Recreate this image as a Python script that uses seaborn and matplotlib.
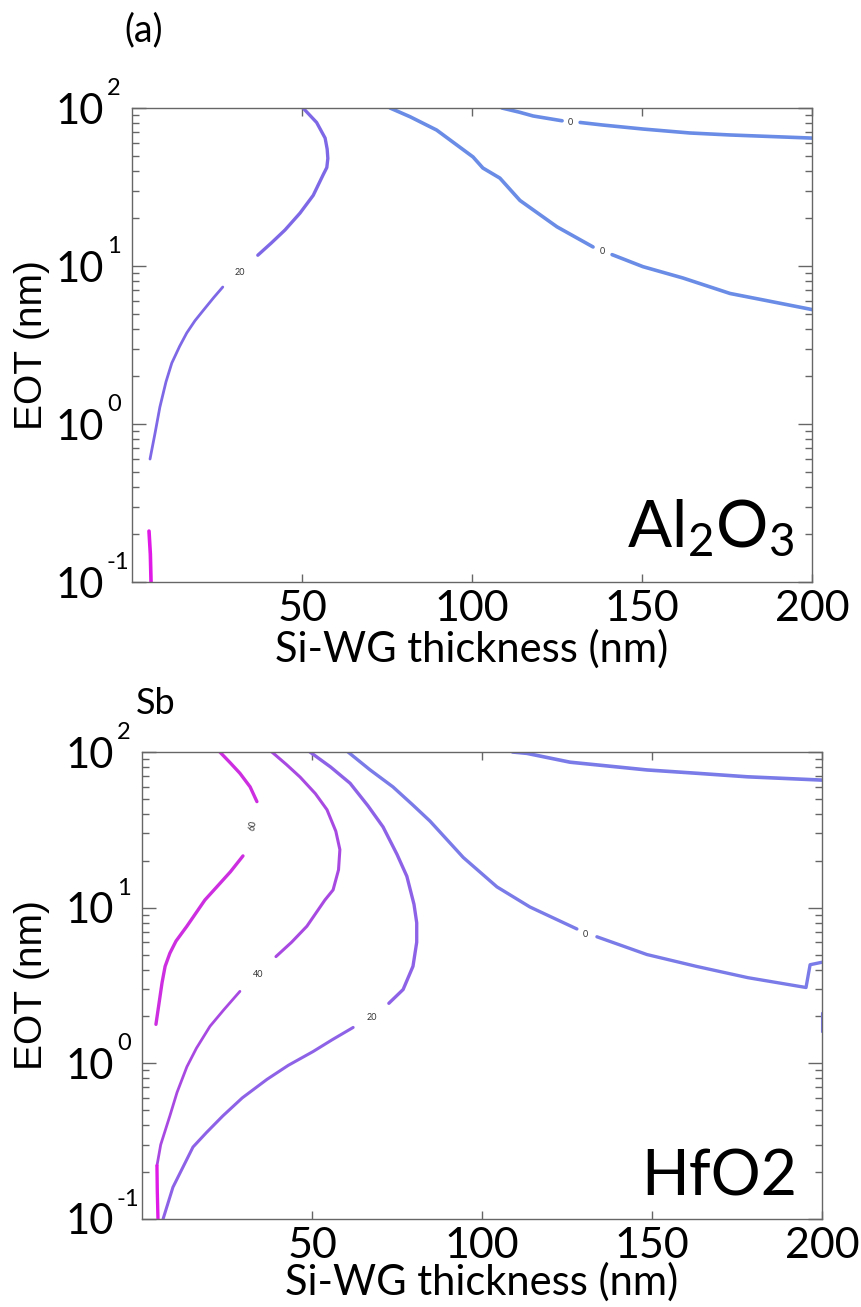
import matplotlib
matplotlib.use("Agg")
import matplotlib.pyplot as plt
import seaborn as sns

# ---- panel (a): Al2O3 ----
# 20 contour, lower piece (below label) and upper piece
al_20_lo_x = [5.3, 6.8, 8.2, 10.0, 11.7, 14.0, 16.1, 18.5, 21.0, 24.0, 26.7]
al_20_lo_y = [0.60, 0.88, 1.28, 1.85, 2.43, 3.10, 3.77, 4.50, 5.25, 6.30, 7.36]
al_20_hi_x = [37.0, 41.0, 45.0, 49.4, 53.3, 56.2, 57.3, 57.6, 57.4, 56.8, 54.3, 50.3]
al_20_hi_y = [11.7, 14.0, 16.9, 21.6, 28.0, 37.7, 42.0, 48.0, 55.0, 64.5, 81.0, 100.0]
# short magenta piece at bottom left
al_mag_x = [5.0, 5.4, 5.6]
al_mag_y = [0.21, 0.15, 0.10]
# lower 0 contour
al_0lo_a_x = [75.9, 81.8, 89.6, 100.3, 103.2, 108.2, 114.1, 125.0, 135.6]
al_0lo_a_y = [100, 88, 72.5, 49, 41.7, 36, 26, 17.7, 13.2]
al_0lo_b_x = [141.2, 150.3, 162.0, 175.9, 185.6, 200.0]
al_0lo_b_y = [11.8, 9.9, 8.4, 6.7, 6.1, 5.3]
# upper 0 contour
al_0hi_a_x = [108.8, 114.0, 118.0, 126.5]
al_0hi_a_y = [100, 94, 89, 83]
al_0hi_b_x = [131.8, 138.5, 150.3, 164.0, 175.9, 200.0]
al_0hi_b_y = [81, 78, 73.6, 69.5, 67.5, 64.5]
al_labels = ["20", "0", "0"]
al_label_x = [31.8, 129.0, 138.2]
al_label_y = [9.1, 81.0, 12.3]

# ---- panel (b): HfO2 ----
hf_60_a_x = [22.9, 26.0, 28.8, 31.8, 33.8]
hf_60_a_y = [100, 85, 73, 59.7, 48]
hf_60_b_x = [29.7, 26.0, 22.0, 18.5, 13.2, 10.0, 8.2, 6.8, 5.9, 4.1]
hf_60_b_y = [21.5, 17.0, 13.6, 11.2, 7.6, 6.1, 5.1, 4.2, 3.3, 1.78]
hf_40_a_x = [38.2, 42.5, 46.5, 51.0, 54.4, 57.0, 58.2, 57.8, 56.2, 53.8, 48.5, 44.0, 39.4]
hf_40_a_y = [100, 83, 69, 54, 42.6, 31, 23.6, 17.5, 13, 11.2, 7.6, 6.0, 4.85]
hf_40_b_x = [28.8, 24.0, 20.0, 16.0, 13.2, 10.3, 8.2, 5.5, 4.4]
hf_40_b_y = [2.9, 2.2, 1.73, 1.25, 0.95, 0.65, 0.46, 0.30, 0.22]
hf_mag_x = [4.4, 4.5, 4.7]
hf_mag_y = [0.22, 0.15, 0.10]
hf_20_a_x = [49.4, 55.5, 61.2, 66.5, 70.9, 75.0, 77.9, 80.0, 80.8, 80.8, 79.7, 76.8, 72.6]
hf_20_a_y = [100, 80, 63, 45, 33, 22, 15.9, 10.5, 8.0, 6.0, 4.2, 2.98, 2.43]
hf_20_b_x = [62.1, 56.0, 50.3, 43.0, 36.8, 29.5, 23.8, 19.0, 15.0, 11.8, 9.1, 6.2]
hf_20_b_y = [1.70, 1.42, 1.19, 0.97, 0.79, 0.60, 0.46, 0.36, 0.29, 0.21, 0.16, 0.10]
hf_0lo_a_x = [60.6, 67.0, 73.8, 79.5, 84.7, 94.5, 104.4, 114.1, 127.9]
hf_0lo_a_y = [100, 77, 59.7, 46, 36, 21, 13.6, 10.1, 7.3]
hf_0lo_b_x = [133.8, 148.5, 163.2, 178.2, 195.3, 196.5, 200.0]
hf_0lo_b_y = [6.5, 5.0, 4.19, 3.55, 3.07, 4.3, 4.46]
hf_0edge_x = [200.0, 200.0]
hf_0edge_y = [1.6, 2.1]
hf_0hi_x = [109.0, 113.2, 125.9, 148.5, 163.2, 178.0, 200.0]
hf_0hi_y = [100, 98, 86, 76.7, 73, 69.3, 66]
hf_labels = ["60", "40", "20", "0"]
hf_label_x = [32.7, 34.1, 67.6, 130.5]
hf_label_y = [33.6, 3.7, 1.97, 6.7]
hf_label_rot = [80, 0, 0, 0]

yticks = [0.1, 1, 10, 100]
yexp = ["-1", "0", "1", "2"]
xticks = [50, 100, 150, 200]

c0_top = "#6A8CE6"
c0_bot = "#7A7AE8"
c20_top = "#7E68E6"
c20_bot = "#8E62E6"
c40 = "#A84AE2"
c60 = "#CC2EE0"
cmag = "#E01AE6"

sns.set_theme(style="white")
plt.rcParams["font.family"] = ["Lato", "DejaVu Sans"]
plt.rcParams["mathtext.fontset"] = "custom"
plt.rcParams["mathtext.rm"] = "Lato"
plt.rcParams["mathtext.it"] = "Lato"
plt.rcParams["text.color"] = "black"
plt.rcParams["axes.labelcolor"] = "black"


def curve(ax, xs, ys, color, lw=2.2):
    sns.lineplot(x=xs, y=ys, sort=False, estimator=None, color=color,
                 lw=lw, ax=ax)


def style_axes(ax, ylab_x):
    ax.set_yscale("log")
    ax.set_xlim(0, 200)
    ax.set_ylim(0.1, 100)
    ax.set_xticks(xticks)
    ax.set_xticklabels([str(t) for t in xticks])
    ax.set_yticks(yticks)
    ax.set_yticklabels(["10"] * len(yticks))
    ax.tick_params(which="both", direction="in", top=True, right=True,
                   bottom=True, left=True, color="#666666", width=1,
                   labelcolor="black")
    ax.tick_params(axis="x", labelsize=31, pad=6, length=6)
    ax.tick_params(axis="y", which="major", labelsize=30, pad=20, length=10)
    ax.tick_params(axis="y", which="minor", length=5)
    for v, e in zip(yticks, yexp):
        ax.annotate(e, xy=(0, v), xycoords=("axes fraction", "data"),
                    xytext=(-18, 14), textcoords="offset points",
                    fontsize=17, ha="left", va="center")
    for s in ax.spines.values():
        s.set_color("#666666")
        s.set_linewidth(1)
    ax.set_xlabel("Si-WG thickness (nm)", fontsize=30)
    ax.xaxis.set_label_coords(0.5, -0.1)
    ax.set_ylabel("EOT (nm)", fontsize=28, family="Liberation Sans")
    ax.yaxis.set_label_coords(ylab_x, 0.5)


fig = plt.figure(figsize=(8.61, 13.07), dpi=100)

# panel (a)
ax1 = fig.add_axes([132 / 861, 1 - 582 / 1307, 680 / 861, 474 / 1307])
ax1.set_yscale("log")
curve(ax1, al_20_lo_x, al_20_lo_y, c20_top, 2.0)
curve(ax1, al_20_hi_x, al_20_hi_y, c20_top, 2.4)
curve(ax1, al_mag_x, al_mag_y, cmag, 2.6)
curve(ax1, al_0lo_a_x, al_0lo_a_y, c0_top, 2.6)
curve(ax1, al_0lo_b_x, al_0lo_b_y, c0_top, 2.6)
curve(ax1, al_0hi_a_x, al_0hi_a_y, c0_top, 2.6)
curve(ax1, al_0hi_b_x, al_0hi_b_y, c0_top, 2.6)
for t, x, y in zip(al_labels, al_label_x, al_label_y):
    ax1.text(x, y, t, fontsize=6.5, ha="center", va="center", color="#333333")
style_axes(ax1, -0.12)
ax1.text(0.974, 0.074, r"Al$_2$O$_3$", transform=ax1.transAxes,
         fontsize=47, ha="right", va="baseline")

# panel (b)
ax2 = fig.add_axes([142 / 861, 1 - 1219 / 1307, 680 / 861, 467 / 1307])
ax2.set_yscale("log")
curve(ax2, hf_60_a_x, hf_60_a_y, c60, 2.4)
curve(ax2, hf_60_b_x, hf_60_b_y, c60, 2.4)
curve(ax2, hf_40_a_x, hf_40_a_y, c40, 2.2)
curve(ax2, hf_40_b_x, hf_40_b_y, c40, 2.0)
curve(ax2, hf_mag_x, hf_mag_y, cmag, 2.4)
curve(ax2, hf_20_a_x, hf_20_a_y, c20_bot, 2.4)
curve(ax2, hf_20_b_x, hf_20_b_y, c20_bot, 2.2)
curve(ax2, hf_0lo_a_x, hf_0lo_a_y, c0_bot, 2.4)
curve(ax2, hf_0lo_b_x, hf_0lo_b_y, c0_bot, 2.4)
curve(ax2, hf_0edge_x, hf_0edge_y, c0_bot, 1.5)
curve(ax2, hf_0hi_x, hf_0hi_y, c0_bot, 2.6)
for t, x, y, r in zip(hf_labels, hf_label_x, hf_label_y, hf_label_rot):
    ax2.text(x, y, t, fontsize=6.5, ha="center", va="center", rotation=r,
             color="#333333")
style_axes(ax2, -0.135)
ax2.xaxis.set_label_coords(0.5, -0.092)
ax2.text(0.963, 0.051, "HfO2", transform=ax2.transAxes,
         fontsize=45, ha="right", va="baseline")

fig.text(124 / 861, 1 - 41 / 1307, "(a)", fontsize=27, va="baseline")
fig.text(136 / 861, 1 - 714 / 1307, "Sb", fontsize=26, va="baseline")

fig.savefig("out.png", dpi=100)
